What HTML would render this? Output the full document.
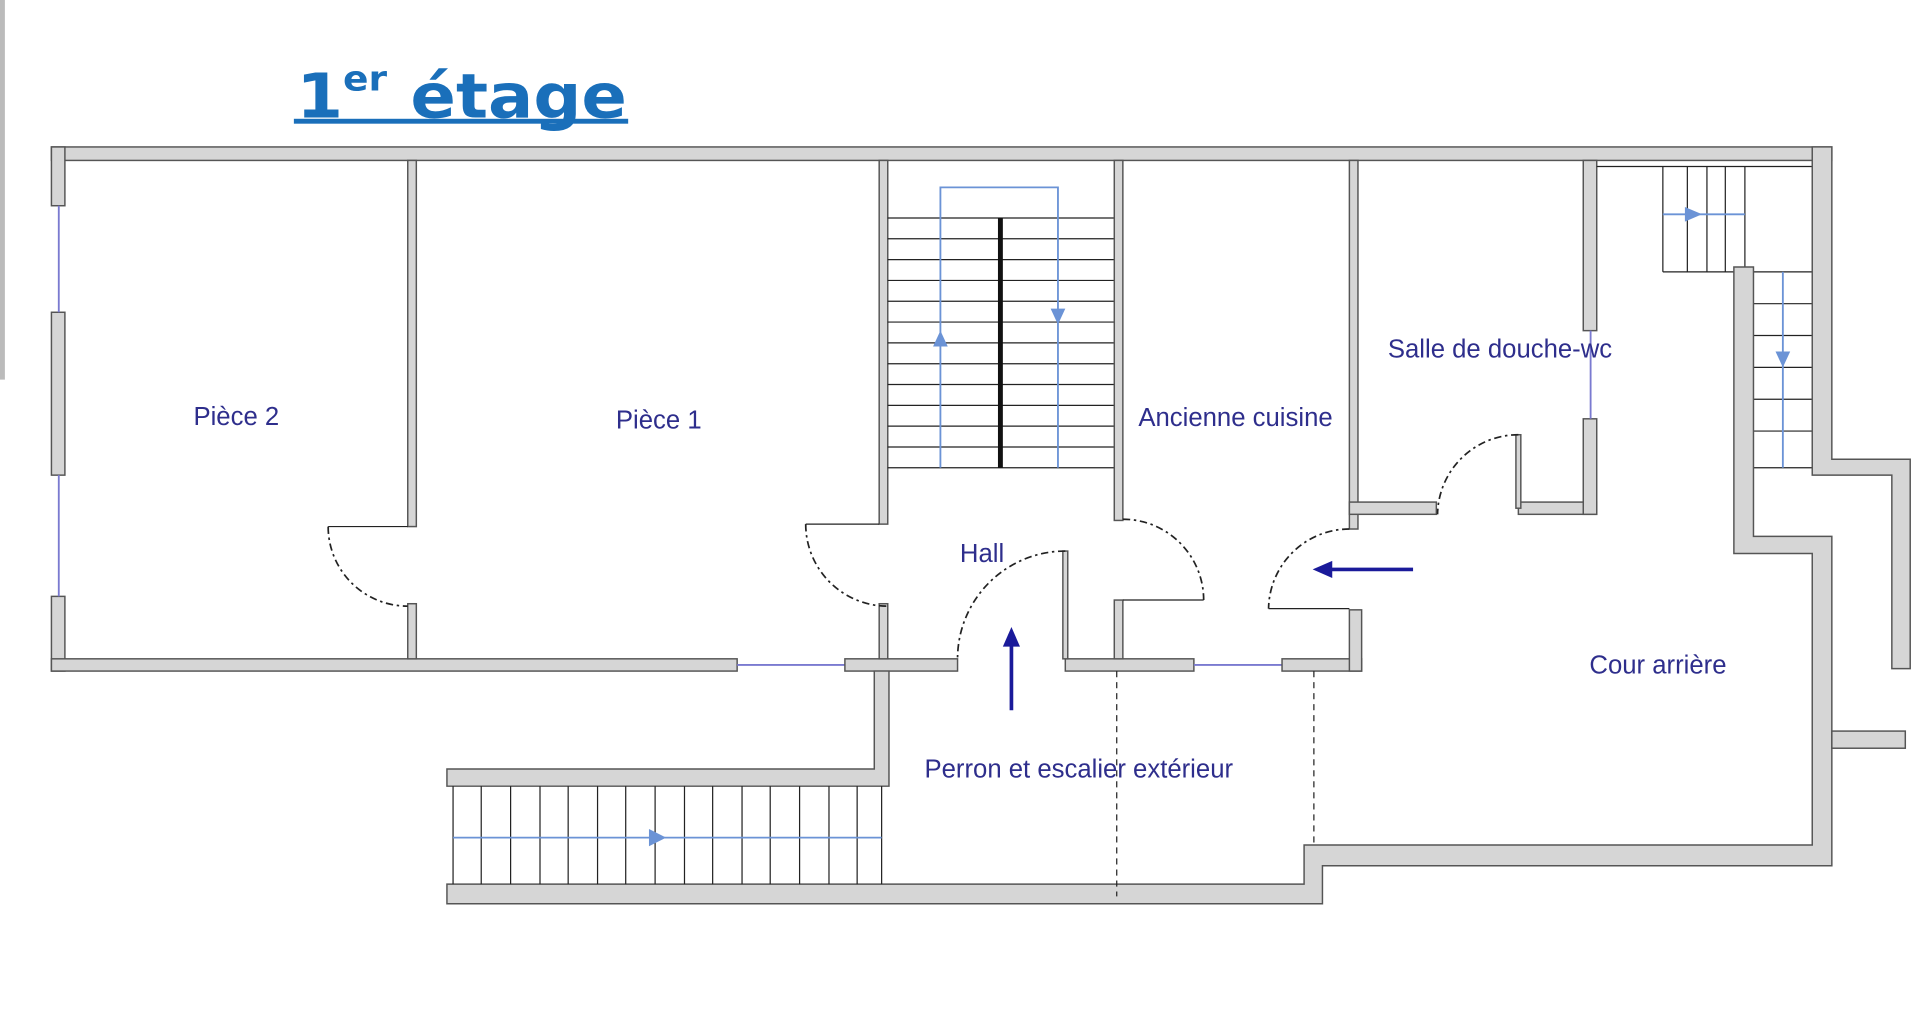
<!DOCTYPE html>
<html><head><meta charset="utf-8"><style>
html,body{margin:0;padding:0;background:#fff;width:1920px;height:1036px;overflow:hidden}
svg{display:block}
.w{fill:#d6d6d6;stroke:#555;stroke-width:1.2}
.l{font-family:"Liberation Sans",sans-serif;font-size:21px;fill:#2e2e8c;text-anchor:middle}
.d{fill:none;stroke:#222;stroke-width:1.4;stroke-dasharray:6 3 2 3}
.s{stroke:#222;stroke-width:1}
.b{stroke:#6b93d6;stroke-width:1.5;fill:none}
.win{stroke:#7a7ad0;stroke-width:1.5}
</style></head><body>
<svg width="1920" height="1036" viewBox="0 0 1568 846" preserveAspectRatio="none">
<rect x="0" y="0" width="4" height="310" fill="#bbb"/>
<text x="242" y="96" font-family="DejaVu Sans,sans-serif" font-weight="bold" font-size="50" fill="#1a6fba" textLength="270" lengthAdjust="spacingAndGlyphs">1<tspan font-size="28" dy="-22">er</tspan><tspan dy="22"> étage</tspan></text>
<rect x="240" y="97" width="273" height="4" fill="#1a6fba"/>

<!-- outer walls -->
<rect class="w" x="42" y="120" width="1454" height="11"/>
<rect class="w" x="42" y="120" width="11" height="48"/>
<rect class="w" x="42" y="255" width="11" height="133"/>
<rect class="w" x="42" y="487" width="11" height="61"/>
<line class="win" x1="48" y1="168" x2="48" y2="255"/><line class="win" x1="48" y1="388" x2="48" y2="487"/>
<rect class="w" x="42" y="538" width="560" height="10"/>
<line class="win" x1="602" y1="543" x2="690" y2="543"/>
<rect class="w" x="690" y="538" width="92" height="10"/>
<rect class="w" x="870" y="538" width="105" height="10"/>
<line class="win" x1="975" y1="543" x2="1047" y2="543"/>
<rect class="w" x="1047" y="538" width="65" height="10"/>
<rect class="w" x="1102" y="498" width="10" height="50"/>

<!-- partitions -->
<rect class="w" x="333" y="131" width="7" height="299"/>
<rect class="w" x="333" y="493" width="7" height="45"/>
<line class="s" x1="268" y1="430" x2="333" y2="430" stroke-width="2"/>
<path class="d" d="M268 430 A65 65 0 0 0 333 495"/>
<rect class="w" x="718" y="131" width="7" height="297"/>
<rect class="w" x="718" y="493" width="7" height="45"/>
<line class="s" x1="658" y1="428" x2="718" y2="428" stroke-width="2"/>
<path class="d" d="M658 428 A67 67 0 0 0 725 495"/>

<!-- stairs -->
<g class="s">
<line x1="725" y1="178" x2="910" y2="178"/><line x1="725" y1="195" x2="910" y2="195"/><line x1="725" y1="212" x2="910" y2="212"/><line x1="725" y1="229" x2="910" y2="229"/><line x1="725" y1="246" x2="910" y2="246"/><line x1="725" y1="263" x2="910" y2="263"/><line x1="725" y1="280" x2="910" y2="280"/><line x1="725" y1="297" x2="910" y2="297"/><line x1="725" y1="314" x2="910" y2="314"/><line x1="725" y1="331" x2="910" y2="331"/><line x1="725" y1="348" x2="910" y2="348"/><line x1="725" y1="365" x2="910" y2="365"/><line x1="725" y1="382" x2="910" y2="382"/>
</g>
<rect x="815" y="178" width="4" height="204" fill="#111"/>
<path class="b" d="M768 382 V153 H864 V382"/>
<path d="M762 283 L768 270 L774 283Z M858 252 L864 265 L870 252Z" fill="#6b93d6"/>

<rect class="w" x="910" y="131" width="7" height="294"/>
<rect class="w" x="910" y="490" width="7" height="48"/>
<line class="s" x1="917" y1="490" x2="983" y2="490" stroke-width="2"/>
<path class="d" d="M917 424 A66 66 0 0 1 983 490"/>
<rect class="w" x="868" y="450" width="4" height="88"/>
<path class="d" d="M870 450 A88 88 0 0 0 782 538"/>

<rect class="w" x="1102" y="131" width="7" height="301"/>
<line class="s" x1="1036" y1="497" x2="1102" y2="497" stroke-width="2"/>
<path class="d" d="M1102 432 A66 66 0 0 0 1036 497"/>

<rect class="w" x="1102" y="410" width="71" height="10"/>
<rect class="w" x="1240" y="410" width="64" height="10"/>
<rect class="w" x="1238" y="355" width="4" height="60"/>
<path class="d" d="M1240 355 A66 66 0 0 0 1174 420"/>
<rect class="w" x="1293" y="131" width="11" height="139"/>
<rect class="w" x="1293" y="342" width="11" height="78"/>
<line class="win" x1="1299" y1="270" x2="1299" y2="342"/>

<!-- right side -->
<line class="s" x1="1304" y1="136" x2="1480" y2="136"/>
<g class="s"><line x1="1358" y1="136" x2="1358" y2="222"/><line x1="1378" y1="136" x2="1378" y2="222"/><line x1="1394" y1="136" x2="1394" y2="222"/><line x1="1409" y1="136" x2="1409" y2="222"/><line x1="1425" y1="136" x2="1425" y2="222"/><line x1="1358" y1="222" x2="1480" y2="222"/>
<line x1="1432" y1="248" x2="1480" y2="248"/><line x1="1432" y1="274" x2="1480" y2="274"/><line x1="1432" y1="300" x2="1480" y2="300"/><line x1="1432" y1="326" x2="1480" y2="326"/><line x1="1432" y1="352" x2="1480" y2="352"/><line x1="1432" y1="382" x2="1480" y2="382"/></g>
<line class="b" x1="1358" y1="175" x2="1425" y2="175"/>
<path d="M1376 169 L1390 175 L1376 181Z" fill="#6b93d6"/>
<line class="b" x1="1456" y1="222" x2="1456" y2="382"/>
<path d="M1450 287 L1456 300 L1462 287Z" fill="#6b93d6"/>
<path class="w" d="M1480 120 H1496 V375 H1560 V546 H1545 V388 H1480Z"/>
<path class="w" d="M1416 218 H1432 V438 H1496 V707 H1080 V738 H365 V722 H1065 V690 H1480 V452 H1416Z"/>
<rect class="w" x="1496" y="597" width="60" height="14"/>

<!-- front steps -->
<path class="w" d="M714 548 H726 V642 H365 V628 H714Z"/>
<g class="s"><line x1="370" y1="642" x2="370" y2="722"/><line x1="393" y1="642" x2="393" y2="722"/><line x1="417" y1="642" x2="417" y2="722"/><line x1="441" y1="642" x2="441" y2="722"/><line x1="464" y1="642" x2="464" y2="722"/><line x1="488" y1="642" x2="488" y2="722"/><line x1="511" y1="642" x2="511" y2="722"/><line x1="535" y1="642" x2="535" y2="722"/><line x1="559" y1="642" x2="559" y2="722"/><line x1="582" y1="642" x2="582" y2="722"/><line x1="606" y1="642" x2="606" y2="722"/><line x1="629" y1="642" x2="629" y2="722"/><line x1="653" y1="642" x2="653" y2="722"/><line x1="677" y1="642" x2="677" y2="722"/><line x1="700" y1="642" x2="700" y2="722"/><line x1="720" y1="642" x2="720" y2="722"/></g>
<line class="b" x1="370" y1="684" x2="720" y2="684"/>
<path d="M530 677 L544 684 L530 691Z" fill="#6b93d6"/>
<line x1="912" y1="548" x2="912" y2="732" stroke="#222" stroke-dasharray="5 4"/>
<line x1="1073" y1="548" x2="1073" y2="690" stroke="#222" stroke-dasharray="5 4"/>

<!-- arrows -->
<line x1="826" y1="580" x2="826" y2="525" stroke="#1a1a9a" stroke-width="3"/>
<path d="M819 528 L826 512 L833 528Z" fill="#1a1a9a"/>
<line x1="1154" y1="465" x2="1085" y2="465" stroke="#1a1a9a" stroke-width="3"/>
<path d="M1088 458 L1072 465 L1088 472Z" fill="#1a1a9a"/>

<text class="l" x="193" y="347">Pièce 2</text>
<text class="l" x="538" y="350">Pièce 1</text>
<text class="l" x="802" y="459">Hall</text>
<text class="l" x="1009" y="348">Ancienne cuisine</text>
<text class="l" x="1225" y="292">Salle de douche-wc</text>
<text class="l" x="1354" y="550">Cour arrière</text>
<text class="l" x="881" y="635">Perron et escalier extérieur</text>
</svg>
</body></html>
